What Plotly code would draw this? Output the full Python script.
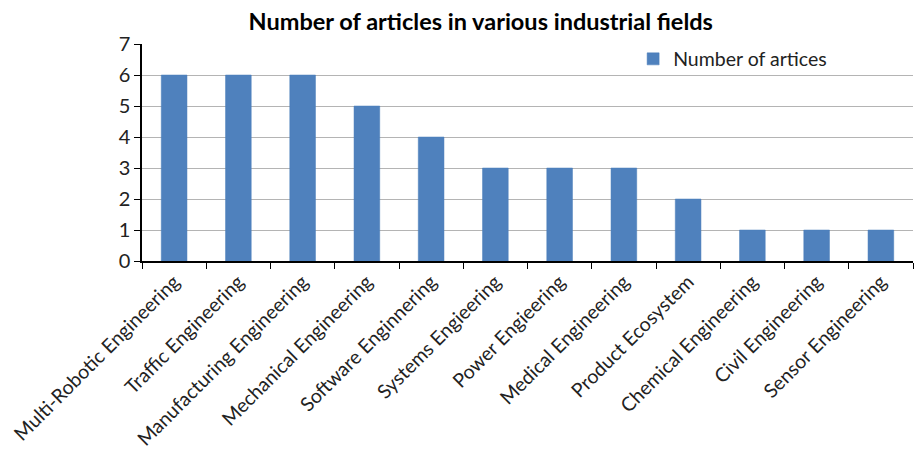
import plotly.graph_objects as go

categories = ["Multi-Robotic Engineering", "Traffic Engineering", "Manufacturing Engineering",
              "Mechanical Engineering", "Software Enginnering", "Systems Engieering",
              "Power Engieering", "Medical Engineering", "Product Ecosystem",
              "Chemical Engineering", "Civil Engineering", "Sensor Engineering"]
values = [6, 6, 6, 5, 4, 3, 3, 3, 2, 1, 1, 1]
series_name = "Number of artices"
title = "Number of articles in various industrial fields"

FONT = "Lato, Open Sans, sans-serif"

fig = go.Figure(go.Bar(
    x=categories, y=values, name=series_name,
    marker=dict(color="#4F81BD", line=dict(color="#4A7EBB", width=0.5)),
    showlegend=True,
))

fig.update_layout(
    width=914, height=452,
    margin=dict(l=142, r=1, t=44, b=191),
    paper_bgcolor="white", plot_bgcolor="white",
    bargap=0.6,
    title=dict(text="<b>" + title + "</b>", x=0.526, xanchor="center", xref="container",
               y=0.952, yanchor="middle", yref="container",
               font=dict(family=FONT, size=23.5, color="black")),
    font=dict(family=FONT, color="#222"),
    legend=dict(x=0.637, y=0.93, xanchor="left", yanchor="middle",
                bgcolor="rgba(0,0,0,0)", font=dict(family=FONT, size=19.5, color="#222"),
                itemwidth=30),
    xaxis=dict(type="category", tickangle=-45, tickson="boundaries",
               ticks="outside", ticklen=6, tickcolor="black",
               showline=True, linecolor="black", linewidth=1.5,
               tickfont=dict(family=FONT, size=19.5, color="#222"),
               showgrid=False),
    yaxis=dict(range=[0, 7], dtick=1, ticks="outside", ticklen=6, tickcolor="black",
               showline=True, linecolor="black", linewidth=1.5,
               showgrid=True, gridcolor="#B4B4B4", gridwidth=1.2,
               tickfont=dict(family=FONT, size=20, color="#222"),
               zeroline=False),
)

fig.write_html("out.html")
